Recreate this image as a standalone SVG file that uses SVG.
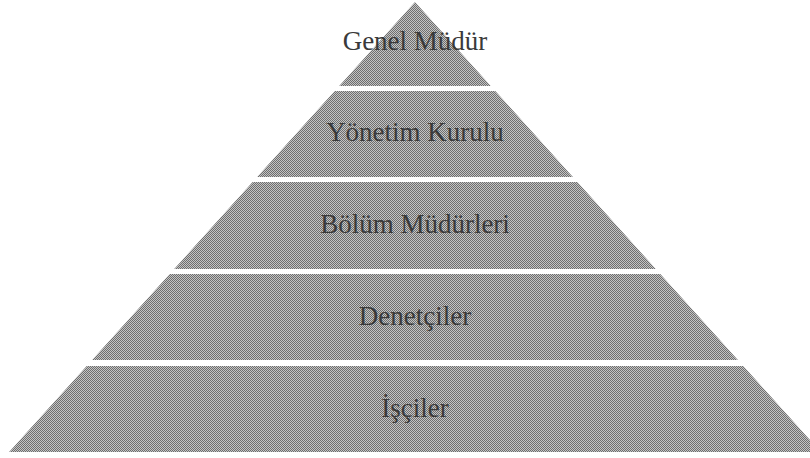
<svg xmlns="http://www.w3.org/2000/svg" width="810" height="458" viewBox="0 0 810 458">
  <defs>
    <!-- halftone-like grey fill for the pyramid tiers -->
    <pattern id="dots" width="2" height="2" patternUnits="userSpaceOnUse">
      <rect width="2" height="2" fill="#c4c4c4"/>
      <rect width="1" height="1" fill="#6e6e6e"/>
      <rect x="1" y="1" width="1" height="1" fill="#6e6e6e"/>
    </pattern>
    <style>
      .tier { fill: url(#dots); stroke: none; }
      .label { font-family: "Liberation Serif", "DejaVu Serif", serif; font-size: 27px; fill: #3a3a3a; text-anchor: middle; }
    </style>
  </defs>
  <rect width="810" height="458" fill="#ffffff"/>

  <g id="genel-mudur">
    <polygon class="tier" points="415,2 490.8,86 339.2,86"/>
    <text class="label" x="415" y="50">Genel Müdür</text>
  </g>

  <g id="yonetim-kurulu">
    <polygon class="tier" points="334.7,91 495.3,91 572.9,177 257.1,177"/>
    <text class="label" x="415" y="141">Yönetim Kurulu</text>
  </g>

  <g id="bolum-mudurleri">
    <polygon class="tier" points="252.6,182 577.4,182 655.8,269 174.2,269"/>
    <text class="label" x="415" y="233">Bölüm Müdürleri</text>
  </g>

  <g id="denetciler">
    <polygon class="tier" points="169.7,274 660.3,274 737.9,360 92.1,360"/>
    <text class="label" x="415" y="325">Denetçiler</text>
  </g>

  <g id="isciler">
    <polygon class="tier" points="86.7,366 743.3,366 820.9,452 9.1,452"/>
    <text class="label" x="415" y="417">İşçiler</text>
  </g>

  <g id="connectors"></g>
</svg>
